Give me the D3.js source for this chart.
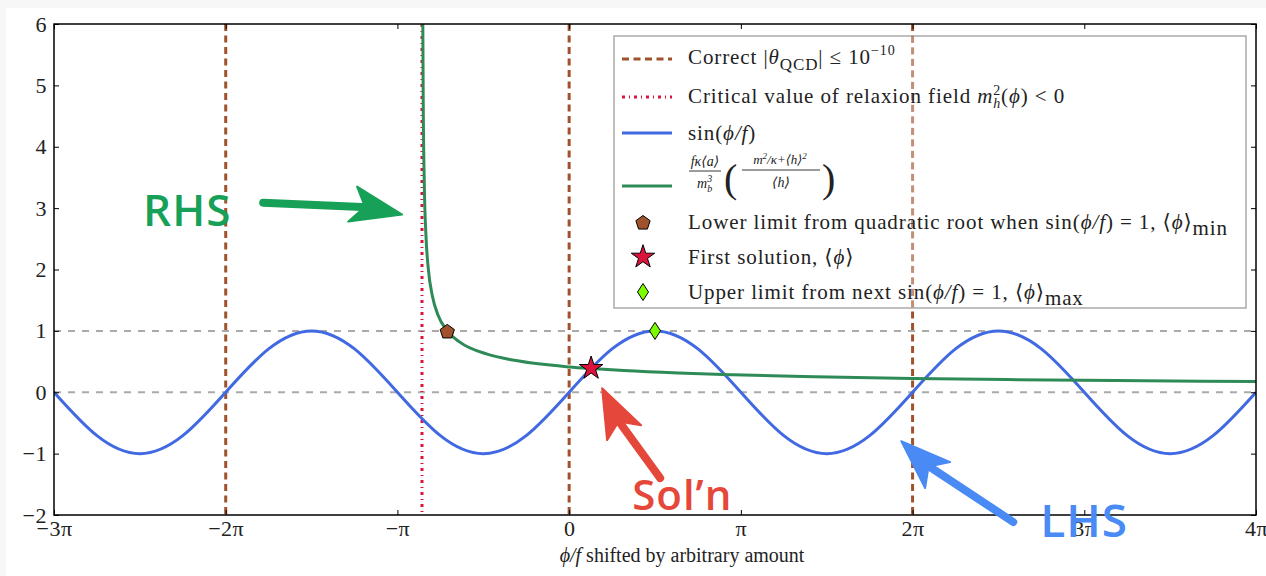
<!DOCTYPE html>
<html><head><meta charset="utf-8">
<script src="https://cdn.jsdelivr.net/npm/d3@7"></script>
<style>body{margin:0;background:#f7f7f7}svg{display:block}</style>
</head><body>
<svg id="c" width="1266" height="576"></svg>
<script>
// ---------- data (x in units of π) ----------
const xTickValues = [-3,-2,-1,0,1,2,3,4];
const xTickLabels = ["−3π","−2π","−π","0","π","2π","3π","4π"];
const yTickValues = [-2,-1,0,1,2,3,4,5,6];
const yTickLabels = ["−2","−1","0","1","2","3","4","5","6"];

const sinX = [-3,-2.75,-2.5,-2.25,-2,-1.75,-1.5,-1.25,-1,-0.75,-0.5,-0.25,0,0.25,0.5,0.75,1,1.25,1.5,1.75,2,2.25,2.5,2.75,3,3.25,3.5,3.75,4];
const sinY = [0,-0.707,-1,-0.707,0,0.707,1,0.707,0,-0.707,-1,-0.707,0,0.707,1,0.707,0,-0.707,-1,-0.707,0,0.707,1,0.707,0,-0.707,-1,-0.707,0];

const rhsX = [-0.8521,-0.8499,-0.8435,-0.834,-0.8212,-0.7958,-0.7639,-0.7098,-0.6366,-0.4775,-0.3183,0,0.128,0.3183,0.6366,0.955,1.432,2.0,2.546,3.183,4.0];
const rhsY = [6.0,4.79,3.39,2.56,2.04,1.56,1.26,1.0,0.816,0.62,0.52,0.413,0.386,0.353,0.313,0.284,0.253,0.226,0.207,0.190,0.174];

const qcdLines = [-2,0,2];
const criticalLines = [-0.857];
const refLines = [0,1];
const lowerLimit = [-0.7098,1.0];
const firstSolution = [0.128,0.39];
const upperLimit = [0.5,1.0];

// hand-drawn annotations in data units
const annRHS = {text:"RHS", at:[-2.481,2.715], tail:[-1.782,3.089], tip:[-0.9726,2.894], w1:[-1.235,3.35], w2:[-1.287,2.78]};
const annSol = {text:"Sol’n", at:[0.367,-1.919], tail:[0.530,-1.398], tip:[0.192,0.065], w1:[0.221,-0.78], w2:[0.419,-0.537]};
const annLHS = {text:"LHS", at:[2.743,-2.358], tail:[2.586,-2.114], tip:[1.934,-0.797], w1:[2.073,-1.561], w2:[2.219,-1.138]};

// ---------- setup ----------
const svg = d3.select("#c");
const L=54, R=1256, T=24, B=515;
const x = d3.scaleLinear().domain([-3,4]).range([L,R]);
const y = d3.scaleLinear().domain([-2,6]).range([B,T]);
const serif = "'Liberation Serif','DejaVu Serif',serif";

svg.append("rect").attr("x",6).attr("y",8).attr("width",1260).attr("height",568).attr("fill","#fff");

svg.append("clipPath").attr("id","clip").append("rect").attr("x",L).attr("y",T).attr("width",R-L).attr("height",B-T);
const plot = svg.append("g").attr("clip-path","url(#clip)");

plot.selectAll(".ref").data(refLines).join("line")
  .attr("x1",L).attr("x2",R).attr("y1",d=>y(d)).attr("y2",d=>y(d))
  .attr("stroke","#aaaaaa").attr("stroke-width",2).attr("stroke-dasharray","7,7");

plot.selectAll(".qcd").data(qcdLines).join("line")
  .attr("x1",d=>x(d)).attr("x2",d=>x(d)).attr("y1",T).attr("y2",B)
  .attr("stroke","#a0522d").attr("stroke-width",3).attr("stroke-dasharray","7,4.5");

plot.selectAll(".crit").data(criticalLines).join("line")
  .attr("x1",d=>x(d)).attr("x2",d=>x(d)).attr("y1",T).attr("y2",B)
  .attr("stroke","#dc143c").attr("stroke-width",3).attr("stroke-dasharray","3,4,1,4");

const sinLine = d3.line().x((d,i)=>x(sinX[i])).y(d=>y(d)).curve(d3.curveNatural);
plot.append("path").attr("d",sinLine(sinY)).attr("fill","none").attr("stroke","#4169e1").attr("stroke-width",3);

const rhsLine = d3.line().x((d,i)=>x(rhsX[i])).y(d=>y(d)).curve(d3.curveMonotoneX);
plot.append("path").attr("d",rhsLine(rhsY)).attr("fill","none").attr("stroke","#2e8b57").attr("stroke-width",3);

function pentagon(r){const p=[];for(let k=0;k<5;k++){const a=-Math.PI/2+k*2*Math.PI/5;p.push([r*Math.cos(a),r*Math.sin(a)]);}return "M"+p.map(q=>q.join(",")).join("L")+"Z";}
function thinDiamond(w,h){return `M0,${-h}L${w},0L0,${h}L${-w},0Z`;}
const star = d3.symbol().type(d3.symbolStar).size(170)();
function drawMarkers(g, px, py, kind){
  if(kind==="pent") g.append("path").attr("d",pentagon(7.5)).attr("transform",`translate(${px},${py+1})`).attr("fill","#a0522d").attr("stroke","#000").attr("stroke-width",1);
  if(kind==="star") g.append("path").attr("d",star).attr("transform",`translate(${px},${py})`).attr("fill","#dc143c").attr("stroke","#000").attr("stroke-width",1);
  if(kind==="dia") g.append("path").attr("d",thinDiamond(5.5,8.5)).attr("transform",`translate(${px},${py})`).attr("fill","#7cfc00").attr("stroke","#000").attr("stroke-width",1);
}
drawMarkers(svg, x(lowerLimit[0]), y(lowerLimit[1]), "pent");
drawMarkers(svg, x(firstSolution[0]), y(firstSolution[1]), "star");
drawMarkers(svg, x(upperLimit[0]), y(upperLimit[1]), "dia");

svg.append("rect").attr("x",L).attr("y",T).attr("width",R-L).attr("height",B-T).attr("fill","none").attr("stroke","#000").attr("stroke-width",1.5);

const xa = d3.axisBottom(x).tickValues(xTickValues).tickFormat((d,i)=>xTickLabels[i]).tickSize(-5).tickPadding(5);
svg.append("g").attr("transform",`translate(0,${B})`).call(xa);
const xt = d3.axisTop(x).tickValues(xTickValues).tickFormat("").tickSize(-5);
svg.append("g").attr("transform",`translate(0,${T})`).call(xt);
const ya = d3.axisLeft(y).tickValues(yTickValues).tickFormat((d,i)=>yTickLabels[i]).tickSize(-5).tickPadding(7);
svg.append("g").attr("transform",`translate(${L},0)`).call(ya);
const yt = d3.axisRight(y).tickValues(yTickValues).tickFormat("").tickSize(-5);
svg.append("g").attr("transform",`translate(${R},0)`).call(yt);
svg.selectAll(".domain").remove();
svg.selectAll(".tick line").attr("stroke","#000").attr("stroke-width",1);
svg.selectAll(".tick text").attr("font-family",serif).attr("font-size",22).attr("fill","#222").attr("letter-spacing",0.5);

const xl = svg.append("text").attr("x",(L+R)/2+27).attr("y",562).attr("text-anchor","middle").attr("font-family",serif).attr("font-size",20).attr("fill","#222");
xl.append("tspan").attr("font-style","italic").text("ϕ/f");
xl.append("tspan").text(" shifted by arbitrary amount");

// ---------- legend ----------
const lg = svg.append("g");
lg.append("rect").attr("x",614).attr("y",36).attr("width",632).attr("height",272).attr("fill","#fff").attr("fill-opacity",0.8).attr("stroke","#aaaaaa").attr("stroke-width",1.5);
svg.selectAll(".qthrough").data(qcdLines.filter(d=>x(d)>614 && x(d)<1246)).join("line")
  .attr("x1",d=>x(d)).attr("x2",d=>x(d)).attr("y1",36).attr("y2",308)
  .attr("stroke","#a0522d").attr("stroke-opacity",0.55).attr("stroke-width",3).attr("stroke-dasharray","7,4.5");

const fs = 21, tx = 688;
function rich(yb, parts){
  const t = svg.append("text").attr("x",tx).attr("y",yb).attr("font-family",serif).attr("font-size",fs).attr("fill","#222").attr("letter-spacing",0.9);
  parts.forEach(p=>{
    const s = t.append("tspan").text(p.t);
    if(p.i) s.attr("font-style","italic");
    if(p.s) s.attr("font-size",p.s);
    if(p.dy) s.attr("dy",p.dy);
    if(p.dx) s.attr("dx",p.dx);
  });
  return t;
}
lg.append("line").attr("x1",622).attr("x2",672).attr("y1",59).attr("y2",59).attr("stroke","#a0522d").attr("stroke-width",3).attr("stroke-dasharray","7,4.5");
lg.append("line").attr("x1",622).attr("x2",672).attr("y1",97).attr("y2",97).attr("stroke","#dc143c").attr("stroke-width",3).attr("stroke-dasharray","3,4,1,4");
lg.append("line").attr("x1",622).attr("x2",672).attr("y1",133).attr("y2",133).attr("stroke","#4169e1").attr("stroke-width",3);
lg.append("line").attr("x1",622).attr("x2",672).attr("y1",186).attr("y2",186).attr("stroke","#2e8b57").attr("stroke-width",3);
drawMarkers(lg, 643, 222, "pent");
drawMarkers(lg, 643, 257, "star");
drawMarkers(lg, 643, 292, "dia");

rich(64, [{t:"Correct |"},{t:"θ",i:1},{t:"QCD",s:17,dy:6},{t:"| ≤ 10",dy:-6},{t:"−10",s:14,dy:-9}]);
rich(103, [{t:"Critical value of relaxion field "},{t:"m",i:1},{t:"2",s:14,dy:-8},{t:"h",i:1,s:14,dx:-8,dy:13},{t:"(",dy:-5},{t:"ϕ",i:1},{t:") < 0"}]);
rich(140, [{t:"sin("},{t:"ϕ/f",i:1},{t:")"}]);
(function(){
  const g = svg.append("g").attr("font-family",serif).attr("fill","#222");
  g.append("text").attr("x",705).attr("y",166).attr("text-anchor","middle").attr("font-size",14).attr("font-style","italic").text("fκ⟨a⟩");
  g.append("line").attr("x1",689).attr("x2",721).attr("y1",171).attr("y2",171).attr("stroke","#222").attr("stroke-width",0.9);
  const d = g.append("text").attr("x",697).attr("y",188).attr("font-size",14).attr("font-style","italic");
  d.append("tspan").text("m"); d.append("tspan").attr("font-size",10).attr("dy",-6).text("3");
  d.append("tspan").attr("font-size",10).attr("dx",-5).attr("dy",10).text("b");
  g.append("text").attr("x",724).attr("y",192).attr("font-size",40).attr("font-weight",100).text("(");
  const n = g.append("text").attr("x",780).attr("y",164).attr("text-anchor","middle").attr("font-size",13).attr("font-style","italic");
  n.append("tspan").text("m"); n.append("tspan").attr("font-size",9).attr("dy",-5).text("2");
  n.append("tspan").attr("dy",5).text("/κ+⟨h⟩"); n.append("tspan").attr("font-size",9).attr("dy",-5).text("2");
  g.append("line").attr("x1",742).attr("x2",820).attr("y1",170).attr("y2",170).attr("stroke","#222").attr("stroke-width",0.9);
  g.append("text").attr("x",781).attr("y",187).attr("text-anchor","middle").attr("font-size",14).attr("font-style","italic").text("⟨h⟩");
  g.append("text").attr("x",822).attr("y",192).attr("font-size",40).attr("font-weight",100).text(")");
})();
rich(229, [{t:"Lower limit from quadratic root when sin("},{t:"ϕ/f",i:1},{t:") = 1, ⟨"},{t:"ϕ",i:1},{t:"⟩"},{t:"min",dy:6}]);
rich(264, [{t:"First solution, ⟨"},{t:"ϕ",i:1},{t:"⟩"}]);
rich(299, [{t:"Upper limit from next sin("},{t:"ϕ/f",i:1},{t:") = 1, ⟨"},{t:"ϕ",i:1},{t:"⟩"},{t:"max",dy:6}]);

// ---------- annotations ----------
function annotate(a, color, size){
  const P = p=>[x(p[0]),y(p[1])];
  const [tx0,ty0]=P(a.tail), [tx1,ty1]=P(a.tip), w1=P(a.w1), w2=P(a.w2);
  const mx=(w1[0]+w2[0])/2, my=(w1[1]+w2[1])/2;
  svg.append("line").attr("x1",tx0).attr("y1",ty0).attr("x2",mx+(tx1-mx)*0.3).attr("y2",my+(ty1-my)*0.3)
    .attr("stroke",color).attr("stroke-width",8).attr("stroke-linecap","round");
  svg.append("path").attr("d",`M${tx1},${ty1}L${w1[0]},${w1[1]}L${mx+(tx1-mx)*0.25},${my+(ty1-my)*0.25}L${w2[0]},${w2[1]}Z`)
    .attr("fill",color).attr("stroke",color).attr("stroke-width",2).attr("stroke-linejoin","round");
  const [ax,ay]=P(a.at);
  svg.append("text").attr("x",ax).attr("y",ay).attr("font-family","'Open Sans','Noto Sans',sans-serif")
    .attr("font-weight",600).attr("font-size",size).attr("fill",color).attr("letter-spacing",1).text(a.text);
}
annotate(annRHS, "#17a058", 44);
annotate(annSol, "#e5473b", 42);
annotate(annLHS, "#4a8af4", 46);
</script>
</body></html>
